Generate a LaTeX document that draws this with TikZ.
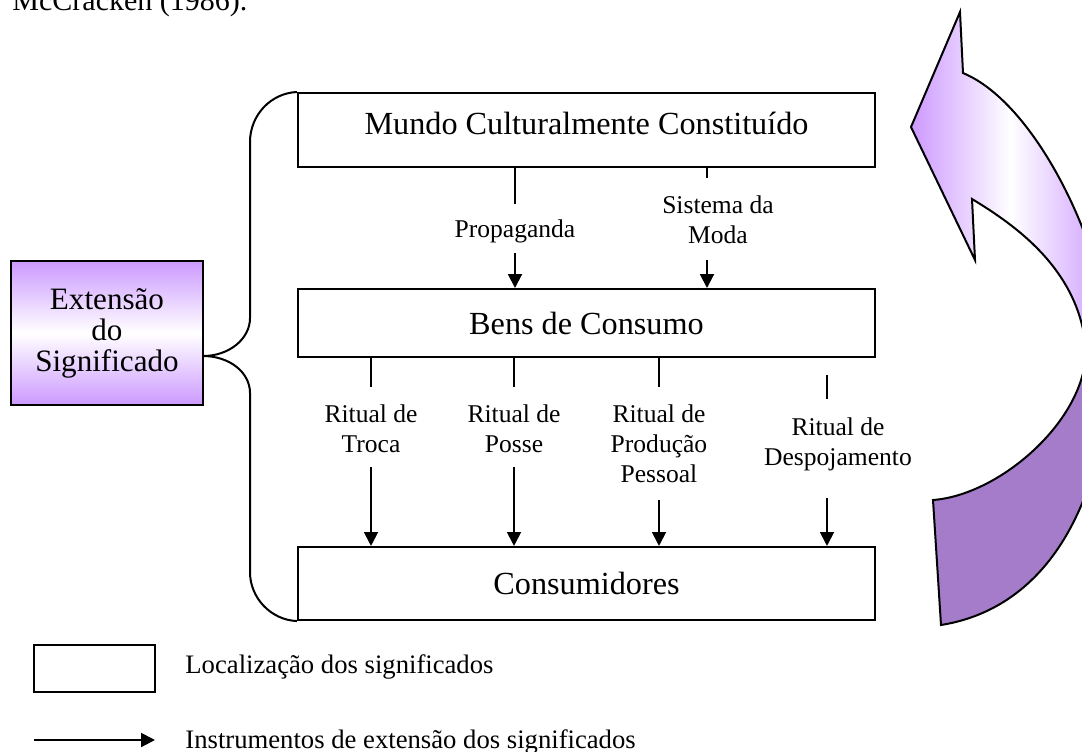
\documentclass[tikz,border=0pt]{standalone}
\usepackage{fontspec}
\setmainfont{Liberation Serif}
\usetikzlibrary{arrows.meta}
\definecolor{lilac}{RGB}{204,153,255}
\definecolor{darklilac}{RGB}{165,124,201}

\begin{document}
\begin{tikzpicture}[x=0.45pt,y=-0.45pt,
  box/.style={draw,line width=0.9pt,minimum width=259.7pt,text height=10pt,text depth=0pt,font=\fontsize{14.5}{17}\selectfont},
  lab/.style={align=center,anchor=base,font=\fontsize{11.5}{13.5}\selectfont},
  link/.style={line width=0.9pt},
  arr/.style={line width=0.9pt,-{Triangle[length=6.2pt,width=6.2pt]}}]
\useasboundingbox (0,0) rectangle (1082,751);

% source line, cut at the top
\node[anchor=base west,inner sep=0pt,font=\fontsize{13.5}{16}\selectfont] (src) at (12,10) {McCracken (1986).};

% big curved arrow on the right
\filldraw[draw=black,line width=0.9pt,left color=lilac,right color=lilac,middle color=white]
  (960,12) -- (911,127) -- (975,260) -- (972,199) .. controls (1015,225) and (1080,270) .. (1086,350)
  -- (1110,350) .. controls (1110,260) and (1040,105) .. (963,73) -- cycle;
\filldraw[draw=black,line width=0.9pt,fill=darklilac]
  (1086,350) .. controls (1086,420) and (1000,495) .. (933,500) -- (941,625)
  .. controls (1065,605) and (1110,470) .. (1110,350) -- cycle;

% the three places of meaning
\node[box,minimum height=33.3pt,text depth=6.4pt] (mundo) at (586.5,130) {Mundo Culturalmente Constituído};
\node[box,minimum height=30.6pt] (bens) at (586.5,323) {Bens de Consumo};
\node[box,minimum height=32.9pt] (cons) at (586.5,583.5) {Consumidores};

% extension box and brace
\node[draw,line width=0.9pt,minimum width=86.4pt,minimum height=64.8pt,align=center,
  top color=lilac,bottom color=lilac,middle color=white,
  font=\fontsize{14}{14}\selectfont] (ext) at (107,333) {Extensão\\do\\Significado};
\coordinate (tip) at (203,356);
\draw[link] (mundo.north west) .. controls (271,93) and (250,115) .. (250,142) -- (250,318)
  .. controls (250,339) and (229,356) .. (tip) .. controls (229,356) and (250,372) .. (250,393)
  -- (250,572) .. controls (250,598) and (271,620) .. (cons.south west);

% instruments between world and goods
\node[lab] (prop) at (515,237) {Propaganda};
\node[lab] (moda) at (718,243) {Sistema da\\Moda};
\coordinate (p1) at (515,204);
\coordinate (p2) at (515,253);
\coordinate (m1) at (707,178);
\coordinate (m2) at (707,260);
\draw[link] (mundo.south -| p1) -- (p1);
\draw[arr] (p2) -- (bens.north -| p2);
\draw[link] (mundo.south -| m1) -- (m1);
\draw[arr] (m2) -- (bens.north -| m2);

% instruments between goods and consumers
\node[lab] (troca) at (371,452) {Ritual de\\Troca};
\node[lab] (posse) at (514,452) {Ritual de\\Posse};
\node[lab] (prod) at (659,482) {Ritual de\\Produção\\Pessoal};
\node[lab] (desp) at (838,465) {Ritual de\\Despojamento};
\coordinate (t1) at (371,387);
\coordinate (t2) at (371,467);
\coordinate (o1) at (514,387);
\coordinate (o2) at (514,467);
\coordinate (r1) at (659,387);
\coordinate (r2) at (659,500);
\coordinate (d0) at (827,375);
\coordinate (d1) at (827,399);
\coordinate (d2) at (827,498);
\draw[link] (bens.south -| t1) -- (t1);
\draw[arr] (t2) -- (cons.north -| t2);
\draw[link] (bens.south -| o1) -- (o1);
\draw[arr] (o2) -- (cons.north -| o2);
\draw[link] (bens.south -| r1) -- (r1);
\draw[arr] (r2) -- (cons.north -| r2);
\draw[link] (d0) -- (d1);
\draw[arr] (d2) -- (cons.north -| d2);

% key
\node[draw,line width=0.9pt,minimum width=54.5pt,minimum height=21.2pt] (key) at (94.5,668.5) {};
\node[anchor=base west,inner sep=0pt,font=\fontsize{12}{14}\selectfont] (keybox) at (185,673) {Localização dos significados};
\coordinate (k1) at (34,740);
\coordinate (k2) at (155,740);
\draw[arr] (k1) -- (k2);
\node[anchor=base west,inner sep=0pt,font=\fontsize{12}{14}\selectfont] (keyarr) at (185,748) {Instrumentos de extensão dos significados};
\end{tikzpicture}
\end{document}
